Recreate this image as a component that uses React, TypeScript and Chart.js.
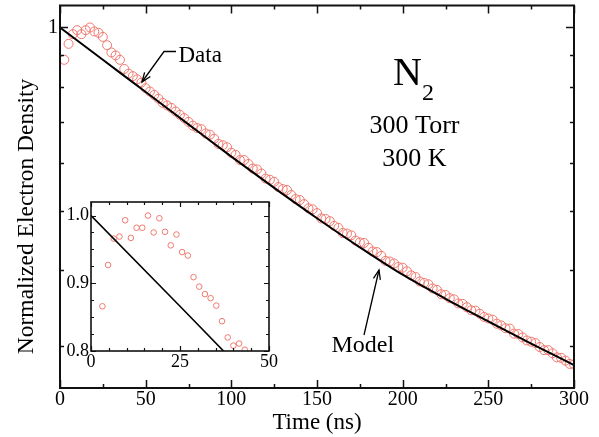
import React, { useEffect, useRef } from 'react';
import { Chart, registerables } from 'chart.js';

Chart.register(...registerables);

const FONT = "'Liberation Serif', 'Times New Roman', Times, serif";
const DATA_COLOR = '#F0786E';

// ---------- Main panel ----------
const mainTime = [
  2.5, 5, 7.5, 10, 12.5, 15, 17.5, 20, 22.5, 25, 27.5, 30, 32.5, 35, 37.5, 40, 42.5, 45, 47.5, 50,
  52.5, 55, 57.5, 60, 62.5, 65, 67.5, 70, 72.5, 75, 77.5, 80, 82.5, 85, 87.5, 90, 92.5, 95, 97.5, 100,
  102.5, 105, 107.5, 110, 112.5, 115, 117.5, 120, 122.5, 125, 127.5, 130, 132.5, 135, 137.5, 140, 142.5, 145, 147.5, 150,
  152.5, 155, 157.5, 160, 162.5, 165, 167.5, 170, 172.5, 175, 177.5, 180, 182.5, 185, 187.5, 190, 192.5, 195, 197.5, 200,
  202.5, 205, 207.5, 210, 212.5, 215, 217.5, 220, 222.5, 225, 227.5, 230, 232.5, 235, 237.5, 240, 242.5, 245, 247.5, 250,
  252.5, 255, 257.5, 260, 262.5, 265, 267.5, 270, 272.5, 275, 277.5, 280, 282.5, 285, 287.5, 290, 292.5, 295, 297.5, 300,
];
const mainDensity = [
  0.885, 0.94, 0.975, 0.99, 0.975, 0.99, 1.0, 0.985, 0.98, 0.965, 0.935, 0.91, 0.9, 0.885, 0.855, 0.84, 0.832, 0.822, 0.812, 0.795,
  0.785, 0.775, 0.764, 0.752, 0.745, 0.738, 0.728, 0.719, 0.71, 0.7, 0.69, 0.684, 0.681, 0.67, 0.667, 0.657, 0.644, 0.641, 0.636, 0.623,
  0.618, 0.606, 0.606, 0.597, 0.587, 0.585, 0.576, 0.565, 0.5625, 0.558, 0.547, 0.543, 0.541, 0.531, 0.523, 0.521, 0.513, 0.505, 0.503, 0.496,
  0.486, 0.485, 0.481, 0.4725, 0.469, 0.46, 0.459, 0.456, 0.447, 0.444, 0.443, 0.435, 0.429, 0.428, 0.422, 0.414, 0.413, 0.41, 0.4045, 0.4035,
  0.398, 0.392, 0.3895, 0.383, 0.381, 0.379, 0.373, 0.371, 0.365, 0.364, 0.3595, 0.358, 0.3525, 0.352, 0.3475, 0.3435, 0.343, 0.339, 0.335, 0.333,
  0.3315, 0.3265, 0.3245, 0.321, 0.3205, 0.3145, 0.314, 0.31, 0.3065, 0.305, 0.3035, 0.299, 0.2955, 0.2955, 0.292, 0.2875, 0.287, 0.284, 0.2805, 0.28,
];
const modelTime = [0, 25, 50, 75, 100, 125, 150, 175, 200, 225, 250, 275, 300];
const modelDensity = [1.0, 0.8852, 0.7837, 0.6935, 0.6139, 0.5455, 0.4864, 0.4358, 0.3929, 0.3588, 0.3294, 0.3028, 0.2793];

const mainXTicks = [0, 50, 100, 150, 200, 250, 300];
const mainXMinorTicks = [25, 75, 125, 175, 225, 275];
const mainYTicks = [1];
const mainYMinorTicks = [0.9, 0.8, 0.7, 0.6, 0.5, 0.4, 0.3];
const mainYMin = 0.2561;
const mainYMax = 1.0866;

// ---------- Inset ----------
const insetTime = [
  3.2, 4.8, 6.4, 8.0, 9.6, 11.2, 12.8, 14.4, 16.0, 17.6, 19.2, 20.8, 22.4, 24.0,
  25.6, 27.2, 28.8, 30.4, 32.0, 33.6, 35.2, 36.8, 38.4, 40.0, 41.6, 43.2,
];
const insetDensity = [
  0.866, 0.927, 0.966, 0.969, 0.993, 0.967, 0.982, 0.982, 1.0, 0.975, 0.996, 0.976, 0.956, 0.972,
  0.946, 0.941, 0.909, 0.895, 0.884, 0.878, 0.867, 0.844, 0.82, 0.808, 0.811, 0.802,
];
const insetModelTime = [0, 25, 50];
const insetModelDensity = [1.0, 0.866, 0.731];
const insetXTicks = [0, 25, 50];
const insetXMinorTicks = [5, 10, 15, 20, 30, 35, 40, 45];
const insetYTicks = [0.8, 0.9, 1.0];
const insetYMinorTicks = [0.825, 0.85, 0.875, 0.925, 0.95, 0.975];

const yTitle = 'Normalized Electron Density';
const xTitle = 'Time (ns)';

function toPoints(xs: number[], ys: number[]) {
  return xs.map((x, i) => ({ x, y: ys[i] }));
}

function drawTicks(chart: any, xMajor: number[], xMinor: number[], yMajor: number[], yMinor: number[], majLen: number, minLen: number, lw: number) {
  const { ctx, chartArea: a, scales } = chart;
  const sx = scales.x;
  const sy = scales.y;
  ctx.save();
  ctx.strokeStyle = '#111';
  ctx.lineWidth = lw;
  ctx.beginPath();
  const xt = (vals: number[], len: number) => {
    vals.forEach((v) => {
      const p = Math.round(sx.getPixelForValue(v)) + 0.5;
      ctx.moveTo(p, a.bottom);
      ctx.lineTo(p, a.bottom - len);
      ctx.moveTo(p, a.top);
      ctx.lineTo(p, a.top + len);
    });
  };
  const yt = (vals: number[], len: number) => {
    vals.forEach((v) => {
      const p = Math.round(sy.getPixelForValue(v)) + 0.5;
      ctx.moveTo(a.left, p);
      ctx.lineTo(a.left + len, p);
      ctx.moveTo(a.right, p);
      ctx.lineTo(a.right - len, p);
    });
  };
  xt(xMajor, majLen);
  xt(xMinor, minLen);
  yt(yMajor, majLen);
  yt(yMinor, minLen);
  ctx.stroke();
  ctx.restore();
}

function drawFrame(chart: any, lw: number) {
  const { ctx, chartArea: a } = chart;
  ctx.save();
  ctx.strokeStyle = '#111';
  ctx.lineWidth = lw;
  ctx.strokeRect(a.left, a.top, a.right - a.left, a.bottom - a.top);
  ctx.restore();
}

function drawArrow(ctx: CanvasRenderingContext2D, pts: number[][]) {
  ctx.beginPath();
  ctx.moveTo(pts[0][0], pts[0][1]);
  for (let i = 1; i < pts.length; i++) ctx.lineTo(pts[i][0], pts[i][1]);
  ctx.stroke();
  const [x1, y1] = pts[pts.length - 2];
  const [x2, y2] = pts[pts.length - 1];
  const ang = Math.atan2(y2 - y1, x2 - x1);
  const L = 10;
  const s = 0.36;
  ctx.beginPath();
  ctx.moveTo(x2 - L * Math.cos(ang - s), y2 - L * Math.sin(ang - s));
  ctx.lineTo(x2, y2);
  ctx.lineTo(x2 - L * Math.cos(ang + s), y2 - L * Math.sin(ang + s));
  ctx.stroke();
}

const mainDecor = {
  id: 'mainDecor',
  afterDraw(chart: any) {
    drawTicks(chart, mainXTicks, mainXMinorTicks, mainYTicks, mainYMinorTicks, 8, 4, 1.5);
    drawFrame(chart, 2);
    const ctx: CanvasRenderingContext2D = chart.ctx;
    const a = chart.chartArea;
    ctx.save();
    ctx.fillStyle = '#000';
    ctx.strokeStyle = '#000';
    ctx.lineWidth = 1.3;
    // y-axis title (placed like the original, a little below the axis centre)
    ctx.save();
    ctx.translate(26.5, 216.5);
    ctx.rotate(-Math.PI / 2);
    ctx.textAlign = 'center';
    ctx.textBaseline = 'middle';
    ctx.font = `23.5px ${FONT}`;
    ctx.fillText(yTitle, 0, 0);
    ctx.restore();

    // x-axis title
    ctx.textAlign = 'center';
    ctx.textBaseline = 'alphabetic';
    ctx.font = `23px ${FONT}`;
    ctx.fillText(xTitle, (a.left + a.right) / 2, 429);

    ctx.textAlign = 'left';
    ctx.font = `40px ${FONT}`;
    ctx.fillText('N', 393, 85);
    ctx.font = `24px ${FONT}`;
    ctx.fillText('2', 422, 100);
    ctx.textAlign = 'center';
    ctx.font = `26px ${FONT}`;
    ctx.fillText('300 Torr', 414.5, 133);
    ctx.fillText('300 K', 414.5, 166);
    ctx.textAlign = 'left';
    ctx.font = `23px ${FONT}`;
    ctx.fillText('Data', 178.5, 61.5);
    ctx.font = `24px ${FONT}`;
    ctx.fillText('Model', 331.5, 352);
    drawArrow(ctx, [[176, 51.5], [164, 51.5], [142, 82]]);
    drawArrow(ctx, [[364, 335], [379, 270]]);
    ctx.restore();
  },
};

const insetDecor = {
  id: 'insetDecor',
  afterDraw(chart: any) {
    drawTicks(chart, insetXTicks, insetXMinorTicks, insetYTicks, insetYMinorTicks, 5, 3, 1.2);
    drawFrame(chart, 1.6);
  },
};

const noPad = (s: any) => {
  s.paddingTop = 0;
  s.paddingBottom = 0;
  s.paddingLeft = 0;
  s.paddingRight = 0;
};

export default function App() {
  const mainRef = useRef<HTMLCanvasElement>(null);
  const insetRef = useRef<HTMLCanvasElement>(null);

  useEffect(() => {
    const main = new Chart(mainRef.current as HTMLCanvasElement, {
      type: 'scatter',
      data: {
        datasets: [
          {
            label: 'Model',
            data: toPoints(modelTime, modelDensity),
            showLine: true,
            borderColor: '#000',
            borderWidth: 2,
            pointRadius: 0,
            cubicInterpolationMode: 'monotone',
            order: 0,
          } as any,
          {
            label: 'Data',
            data: toPoints(mainTime, mainDensity),
            showLine: false,
            pointStyle: 'circle',
            pointRadius: 4.5,
            pointBorderWidth: 1,
            borderColor: DATA_COLOR,
            backgroundColor: 'rgba(0,0,0,0)',
            clip: 0,
            order: 1,
          } as any,
        ],
      },
      options: {
        animation: false,
        responsive: false,
        devicePixelRatio: 1,
        events: [],
        layout: { padding: { top: 5, right: 25, left: 0, bottom: 0 } },
        plugins: { legend: { display: false }, tooltip: { enabled: false } },
        scales: {
          x: {
            type: 'linear',
            min: 0,
            max: 300,
            afterBuildTicks: (s: any) => {
              s.ticks = mainXTicks.map((v) => ({ value: v }));
            },
            afterFit: (s: any) => {
              s.height = 49;
              noPad(s);
            },
            grid: { display: false, drawTicks: false },
            border: { display: false },
            ticks: { font: { family: FONT, size: 20, weight: 'normal' }, color: '#000', padding: 0, maxRotation: 0, autoSkip: false },
            title: { display: false },
          },
          y: {
            type: 'logarithmic',
            min: mainYMin,
            max: mainYMax,
            afterBuildTicks: (s: any) => {
              s.ticks = mainYTicks.map((v) => ({ value: v }));
            },
            afterFit: (s: any) => {
              s.width = 60;
              noPad(s);
            },
            grid: { display: false, drawTicks: false },
            border: { display: false },
            ticks: {
              font: { family: FONT, size: 20, weight: 'normal' },
              color: '#000',
              padding: 2,
              autoSkip: false,
              callback: (v: any) => (Number(v) === 1 ? '1' : ''),
            },
            title: { display: false },
          },
        },
      },
      plugins: [mainDecor],
    } as any);

    const inset = new Chart(insetRef.current as HTMLCanvasElement, {
      type: 'scatter',
      data: {
        datasets: [
          {
            label: 'Model',
            data: toPoints(insetModelTime, insetModelDensity),
            showLine: true,
            borderColor: '#000',
            borderWidth: 1.6,
            pointRadius: 0,
            order: 0,
          } as any,
          {
            label: 'Data',
            data: toPoints(insetTime, insetDensity),
            showLine: false,
            pointStyle: 'circle',
            pointRadius: 2.8,
            pointBorderWidth: 1,
            borderColor: DATA_COLOR,
            backgroundColor: 'rgba(0,0,0,0)',
            clip: 0,
            order: 1,
          } as any,
        ],
      },
      options: {
        animation: false,
        responsive: false,
        devicePixelRatio: 1,
        events: [],
        layout: { padding: { top: 10, right: 13, left: 0, bottom: 0 } },
        plugins: { legend: { display: false }, tooltip: { enabled: false } },
        scales: {
          x: {
            type: 'linear',
            min: 0,
            max: 50,
            afterBuildTicks: (s: any) => {
              s.ticks = insetXTicks.map((v) => ({ value: v }));
            },
            afterFit: (s: any) => {
              s.height = 23;
              noPad(s);
            },
            grid: { display: false, drawTicks: false },
            border: { display: false },
            ticks: { font: { family: FONT, size: 18, weight: 'normal' }, color: '#000', padding: 0, maxRotation: 0, autoSkip: false },
          },
          y: {
            type: 'linear',
            min: 0.8,
            max: 1.02,
            afterBuildTicks: (s: any) => {
              s.ticks = insetYTicks.map((v) => ({ value: v }));
            },
            afterFit: (s: any) => {
              s.width = 31;
              noPad(s);
            },
            grid: { display: false, drawTicks: false },
            border: { display: false },
            ticks: {
              font: { family: FONT, size: 18, weight: 'normal' },
              color: '#000',
              padding: 2,
              autoSkip: false,
              callback: (v: any) => Number(v).toFixed(1),
            },
          },
        },
      },
      plugins: [insetDecor],
    } as any);

    return () => {
      main.destroy();
      inset.destroy();
    };
  }, []);

  return (
    <div style={{ position: 'absolute', left: 0, top: 0, width: 599, height: 437, background: '#fff' }}>
      <canvas ref={mainRef} width={599} height={437} style={{ position: 'absolute', left: 0, top: 0 }} />
      <canvas ref={insetRef} width={222} height={182} style={{ position: 'absolute', left: 60, top: 192 }} />
    </div>
  );
}
